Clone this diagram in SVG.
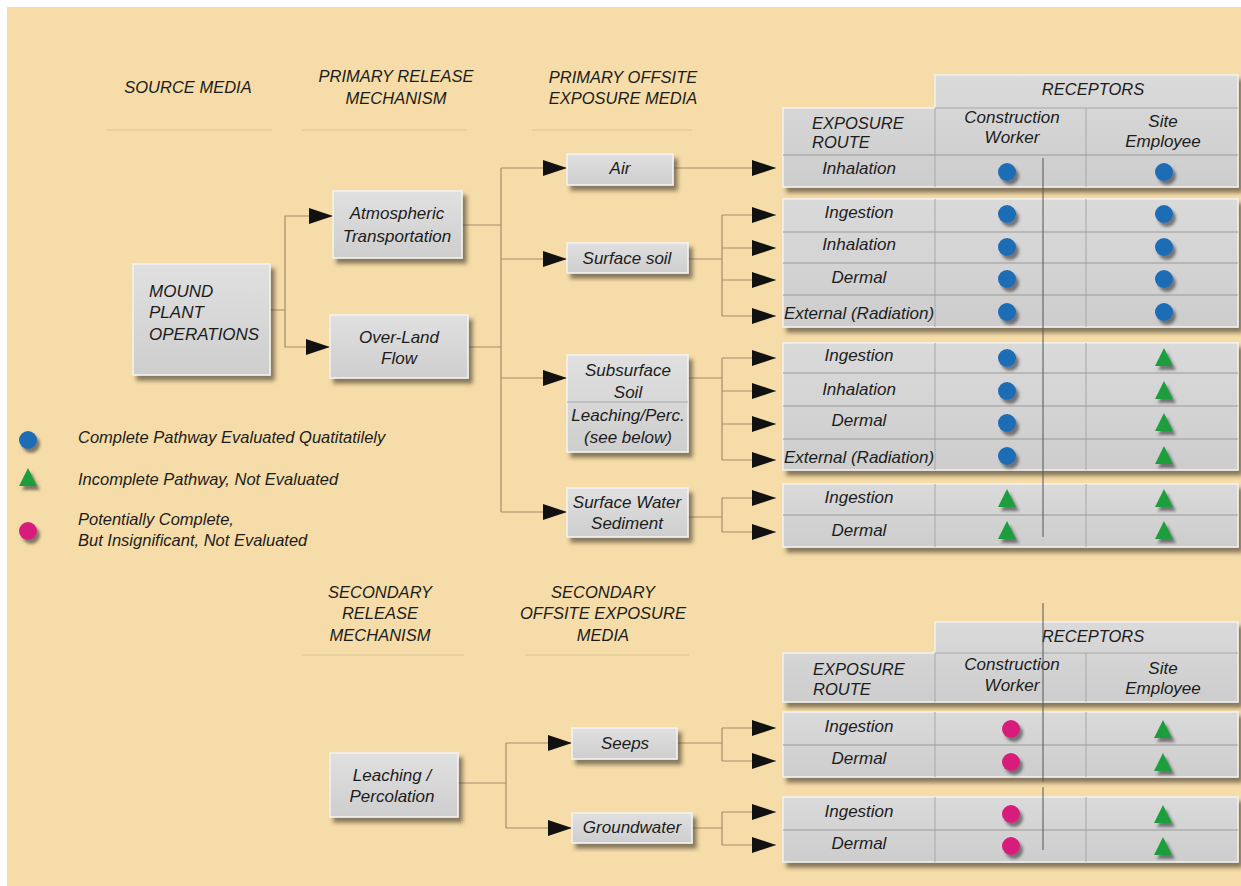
<svg xmlns="http://www.w3.org/2000/svg" width="1241" height="886" viewBox="0 0 1241 886">
<style>
.t{font-family:"Liberation Sans",Arial,sans-serif;font-style:italic;fill:#1c1c1c}
.hd{font-size:16.5px;text-anchor:middle}
.bx{font-size:17px;text-anchor:middle}
.rt{font-size:17px;text-anchor:middle}
.lg{font-size:16.5px}
.box{fill:url(#gb);stroke:#f4f4f4;stroke-width:1.5}
.tbl{fill:url(#gt);stroke:#f2f2f2;stroke-width:1.5}
.rd{stroke:#9a9a9a;stroke-width:1;fill:none}
.cd{stroke:#a8a8a8;stroke-width:1;fill:none}
.cn{stroke:#a38e6c;stroke-width:1.2;fill:none}
.ar{stroke:#a38e6c;stroke-width:1.2;fill:none;marker-end:url(#ah)}
.ul{stroke:#e4cc9c;stroke-width:1.5}
.vl{stroke:#555;stroke-width:1}
.bl{fill:#1f6db5}
.gr{fill:#1f9e3e}
.pk{fill:#d81f7c}
</style>
<defs>
<linearGradient id="gb" x1="0" y1="0" x2="0" y2="1"><stop offset="0" stop-color="#e0e0e0"/><stop offset="1" stop-color="#cecece"/></linearGradient>
<linearGradient id="gt" x1="0" y1="0" x2="0" y2="1"><stop offset="0" stop-color="#dadada"/><stop offset="1" stop-color="#cdcdcd"/></linearGradient>
<filter id="sh" x="-10%" y="-10%" width="130%" height="140%"><feDropShadow dx="4" dy="5" stdDeviation="2" flood-color="#3e3628" flood-opacity="0.6"/></filter>
<filter id="ss" x="-50%" y="-50%" width="200%" height="200%"><feDropShadow dx="3" dy="4" stdDeviation="1.5" flood-color="#333" flood-opacity="0.6"/></filter>
<marker id="ah" viewBox="0 0 24 16" refX="24" refY="8" markerWidth="24" markerHeight="16" markerUnits="userSpaceOnUse" orient="auto"><path d="M0,0 L24,8 L0,16 Z" fill="#111"/></marker>
<circle id="cb" r="9" class="bl"/>
<circle id="cp" r="9" class="pk"/>
<path id="tg" d="M0,-10 L9,8 L-9,8 Z" class="gr"/>
</defs>

<rect x="0" y="0" width="1241" height="886" fill="#ffffff"/>
<rect x="7" y="7" width="1234" height="879" fill="#f6dca8"/>

<g id="headers">
<text class="t hd" x="188" y="93">SOURCE MEDIA</text>
<text class="t hd" x="396" y="82">PRIMARY RELEASE</text>
<text class="t hd" x="396" y="104">MECHANISM</text>
<text class="t hd" x="623" y="83">PRIMARY OFFSITE</text>
<text class="t hd" x="623" y="104">EXPOSURE MEDIA</text>
<line class="ul" x1="107" y1="130" x2="272" y2="130"/>
<line class="ul" x1="302" y1="130" x2="467" y2="130"/>
<line class="ul" x1="532" y1="130" x2="692" y2="130"/>
<text class="t hd" x="380" y="598">SECONDARY</text>
<text class="t hd" x="380" y="619">RELEASE</text>
<text class="t hd" x="380" y="641">MECHANISM</text>
<text class="t hd" x="603" y="598">SECONDARY</text>
<text class="t hd" x="603" y="619">OFFSITE EXPOSURE</text>
<text class="t hd" x="603" y="641">MEDIA</text>
<line class="ul" x1="302" y1="655" x2="464" y2="655"/>
<line class="ul" x1="525" y1="655" x2="689" y2="655"/>
</g>

<g id="connectors">
<path class="ar" d="M270,310 H285 V216 H333"/>
<path class="ar" d="M285,310 V347 H330"/>
<path class="cn" d="M462,225 H501 M468,347 H501 M501,168 V512"/>
<path class="ar" d="M501,168 H567"/>
<path class="ar" d="M501,259 H567"/>
<path class="ar" d="M501,378 H567"/>
<path class="ar" d="M501,512 H567"/>
<path class="ar" d="M673,168 H776"/>
<path class="cn" d="M688,259 H722 M722,215 V316"/>
<path class="ar" d="M722,215 H776"/>
<path class="ar" d="M722,248 H776"/>
<path class="ar" d="M722,280 H776"/>
<path class="ar" d="M722,316 H776"/>
<path class="cn" d="M688,378 H722 M722,358 V460"/>
<path class="ar" d="M722,358 H776"/>
<path class="ar" d="M722,391 H776"/>
<path class="ar" d="M722,424 H776"/>
<path class="ar" d="M722,460 H776"/>
<path class="cn" d="M688,517 H722 M722,498 V532"/>
<path class="ar" d="M722,498 H776"/>
<path class="ar" d="M722,532 H776"/>
<path class="cn" d="M458,783 H506 M506,743 V828"/>
<path class="ar" d="M506,743 H572"/>
<path class="ar" d="M506,828 H572"/>
<path class="cn" d="M677,743 H722 M722,728 V761"/>
<path class="ar" d="M722,728 H776"/>
<path class="ar" d="M722,761 H776"/>
<path class="cn" d="M692,828 H722 M722,812 V845"/>
<path class="ar" d="M722,812 H776"/>
<path class="ar" d="M722,845 H776"/>
</g>

<g id="mound">
<rect class="box" x="133" y="264" width="137" height="111" filter="url(#sh)"/>
<text class="t" font-size="17" x="149" y="297">MOUND</text>
<text class="t" font-size="17" x="149" y="318">PLANT</text>
<text class="t" font-size="17" x="149" y="340">OPERATIONS</text>
</g>
<g id="atmospheric">
<rect class="box" x="333" y="191" width="129" height="67" filter="url(#sh)"/>
<text class="t bx" x="397" y="219">Atmospheric</text>
<text class="t bx" x="397" y="242">Transportation</text>
</g>
<g id="overland">
<rect class="box" x="330" y="315" width="138" height="63" filter="url(#sh)"/>
<text class="t bx" x="399" y="343">Over-Land</text>
<text class="t bx" x="399" y="364">Flow</text>
</g>
<g id="air">
<rect class="box" x="567" y="154" width="106" height="31" filter="url(#sh)"/>
<text class="t bx" x="620" y="174">Air</text>
</g>
<g id="surfacesoil">
<rect class="box" x="567" y="243" width="121" height="30" filter="url(#sh)"/>
<text class="t bx" x="627" y="264">Surface soil</text>
</g>
<g id="subsurface">
<rect class="box" x="567" y="355" width="121" height="97" filter="url(#sh)"/>
<line x1="567" y1="402" x2="688" y2="402" stroke="#a8a8a8" stroke-width="1"/>
<text class="t bx" x="628" y="376">Subsurface</text>
<text class="t bx" x="628" y="398">Soil</text>
<text class="t bx" x="628" y="421">Leaching/Perc.</text>
<text class="t bx" x="628" y="443">(see below)</text>
</g>
<g id="surfacewater">
<rect class="box" x="567" y="488" width="121" height="49" filter="url(#sh)"/>
<text class="t bx" x="627" y="508">Surface Water</text>
<text class="t bx" x="627" y="529">Sediment</text>
</g>
<g id="leaching">
<rect class="box" x="330" y="753" width="128" height="64" filter="url(#sh)"/>
<text class="t bx" x="392" y="781">Leaching /</text>
<text class="t bx" x="392" y="802">Percolation</text>
</g>
<g id="seeps">
<rect class="box" x="572" y="728" width="105" height="31" filter="url(#sh)"/>
<text class="t bx" x="625" y="749">Seeps</text>
</g>
<g id="groundwater">
<rect class="box" x="572" y="813" width="120" height="30" filter="url(#sh)"/>
<text class="t bx" x="632" y="833">Groundwater</text>
</g>

<g id="table-top-1">
<path class="tbl" d="M935,75 H1238 V187 H783 V108 H935 Z" filter="url(#sh)"/>
<path class="cd" d="M935,108 H1238 M935,108 V187 M1086,108 V187"/>
<path class="rd" d="M783,155 H1238"/>
<text class="t hd" x="1093" y="95">RECEPTORS</text>
<text class="t" font-size="16.5" x="812" y="129">EXPOSURE</text>
<text class="t" font-size="16.5" x="812" y="148">ROUTE</text>
<text class="t rt" x="1012" y="123">Construction</text>
<text class="t rt" x="1012" y="143">Worker</text>
<text class="t rt" x="1163" y="127">Site</text>
<text class="t rt" x="1163" y="147">Employee</text>
<text class="t rt" x="859" y="174">Inhalation</text>
<use href="#cb" x="1007" y="172" filter="url(#ss)"/>
<use href="#cb" x="1164" y="172" filter="url(#ss)"/>
</g>
<g id="table-top-2">
<rect class="tbl" x="783" y="199" width="455" height="128" filter="url(#sh)"/>
<path class="cd" d="M935,199 V327 M1086,199 V327"/>
<path class="rd" d="M783,232 H1238 M783,263 H1238 M783,295 H1238"/>
<text class="t rt" x="859" y="218">Ingestion</text>
<text class="t rt" x="859" y="250">Inhalation</text>
<text class="t rt" x="859" y="283">Dermal</text>
<text class="t rt" x="859" y="319">External (Radiation)</text>
<use href="#cb" x="1007" y="214" filter="url(#ss)"/>
<use href="#cb" x="1007" y="247" filter="url(#ss)"/>
<use href="#cb" x="1007" y="279" filter="url(#ss)"/>
<use href="#cb" x="1007" y="312" filter="url(#ss)"/>
<use href="#cb" x="1164" y="214" filter="url(#ss)"/>
<use href="#cb" x="1164" y="247" filter="url(#ss)"/>
<use href="#cb" x="1164" y="279" filter="url(#ss)"/>
<use href="#cb" x="1164" y="312" filter="url(#ss)"/>
</g>
<g id="table-top-3">
<rect class="tbl" x="783" y="343" width="455" height="127" filter="url(#sh)"/>
<path class="cd" d="M935,343 V470 M1086,343 V470"/>
<path class="rd" d="M783,373 H1238 M783,406 H1238 M783,439 H1238"/>
<text class="t rt" x="859" y="361">Ingestion</text>
<text class="t rt" x="859" y="395">Inhalation</text>
<text class="t rt" x="859" y="426">Dermal</text>
<text class="t rt" x="859" y="463">External (Radiation)</text>
<use href="#cb" x="1007" y="358" filter="url(#ss)"/>
<use href="#cb" x="1007" y="391" filter="url(#ss)"/>
<use href="#cb" x="1007" y="423" filter="url(#ss)"/>
<use href="#cb" x="1007" y="456" filter="url(#ss)"/>
<use href="#tg" x="1164" y="358" filter="url(#ss)"/>
<use href="#tg" x="1164" y="391" filter="url(#ss)"/>
<use href="#tg" x="1164" y="423" filter="url(#ss)"/>
<use href="#tg" x="1164" y="456" filter="url(#ss)"/>
</g>
<g id="table-top-4">
<rect class="tbl" x="783" y="484" width="455" height="63" filter="url(#sh)"/>
<path class="cd" d="M935,484 V547 M1086,484 V547"/>
<path class="rd" d="M783,515 H1238"/>
<text class="t rt" x="859" y="503">Ingestion</text>
<text class="t rt" x="859" y="536">Dermal</text>
<use href="#tg" x="1007" y="499" filter="url(#ss)"/>
<use href="#tg" x="1007" y="531" filter="url(#ss)"/>
<use href="#tg" x="1164" y="499" filter="url(#ss)"/>
<use href="#tg" x="1164" y="531" filter="url(#ss)"/>
</g>
<line class="vl" x1="1043" y1="158" x2="1043" y2="537"/>

<g id="table-bottom-1">
<path class="tbl" d="M935,622 H1238 V702 H783 V653 H935 Z" filter="url(#sh)"/>
<path class="cd" d="M935,653 H1238 M935,653 V702 M1086,653 V702"/>
<text class="t hd" x="1093" y="642">RECEPTORS</text>
<text class="t" font-size="16.5" x="813" y="675">EXPOSURE</text>
<text class="t" font-size="16.5" x="813" y="695">ROUTE</text>
<text class="t rt" x="1012" y="670">Construction</text>
<text class="t rt" x="1012" y="691">Worker</text>
<text class="t rt" x="1163" y="674">Site</text>
<text class="t rt" x="1163" y="694">Employee</text>
</g>
<g id="table-bottom-2">
<rect class="tbl" x="783" y="712" width="455" height="65" filter="url(#sh)"/>
<path class="cd" d="M935,712 V777 M1086,712 V777"/>
<path class="rd" d="M783,745 H1238"/>
<text class="t rt" x="859" y="732">Ingestion</text>
<text class="t rt" x="859" y="764">Dermal</text>
<use href="#cp" x="1011" y="729" filter="url(#ss)"/>
<use href="#cp" x="1011" y="762" filter="url(#ss)"/>
<use href="#tg" x="1163" y="730" filter="url(#ss)"/>
<use href="#tg" x="1163" y="763" filter="url(#ss)"/>
</g>
<g id="table-bottom-3">
<rect class="tbl" x="783" y="797" width="455" height="65" filter="url(#sh)"/>
<path class="cd" d="M935,797 V862 M1086,797 V862"/>
<path class="rd" d="M783,830 H1238"/>
<text class="t rt" x="859" y="817">Ingestion</text>
<text class="t rt" x="859" y="849">Dermal</text>
<use href="#cp" x="1011" y="814" filter="url(#ss)"/>
<use href="#cp" x="1011" y="846" filter="url(#ss)"/>
<use href="#tg" x="1163" y="815" filter="url(#ss)"/>
<use href="#tg" x="1163" y="847" filter="url(#ss)"/>
</g>
<line class="vl" x1="1043" y1="603" x2="1043" y2="782"/>
<line class="vl" x1="1043" y1="787" x2="1043" y2="850"/>

<g id="legend">
<use href="#cb" x="28" y="440" filter="url(#ss)"/>
<use href="#tg" x="28" y="478" filter="url(#ss)"/>
<use href="#cp" x="28" y="531" filter="url(#ss)"/>
<text class="t lg" x="78" y="443">Complete Pathway Evaluated Quatitatilely</text>
<text class="t lg" x="78" y="485">Incomplete Pathway, Not Evaluated</text>
<text class="t lg" x="78" y="525">Potentially Complete,</text>
<text class="t lg" x="78" y="546">But Insignificant, Not Evaluated</text>
</g>
</svg>
